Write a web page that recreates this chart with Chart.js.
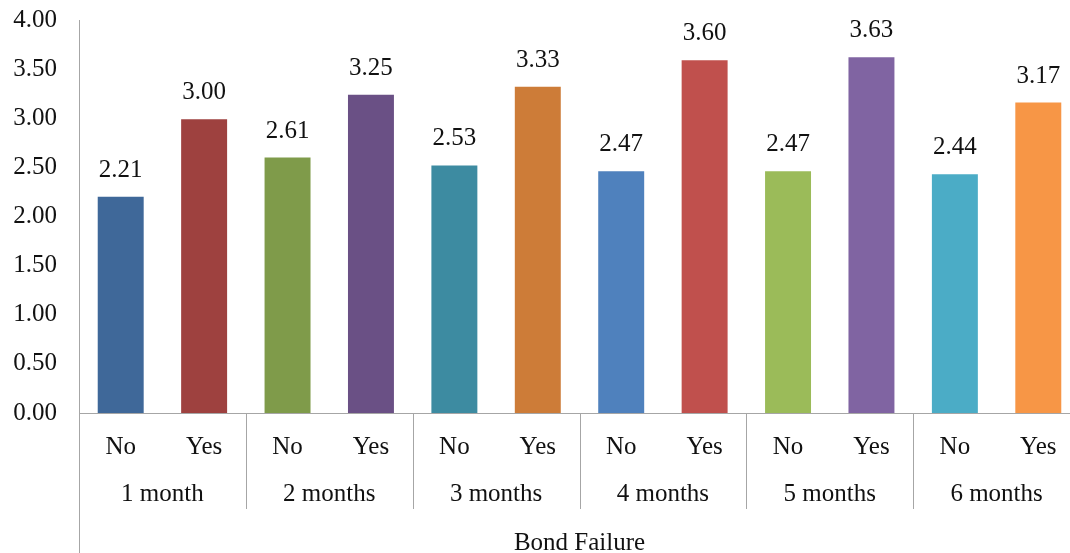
<!DOCTYPE html>
<html>
<head>
<meta charset="utf-8">
<script src="https://cdn.jsdelivr.net/npm/chart.js@4/dist/chart.umd.min.js"></script>
<style>
  html, body { margin: 0; padding: 0; background: #fff; overflow: hidden; }
  #wrap { width: 1080px; height: 553px; position: relative; }
</style>
</head>
<body>
<div id="wrap"><canvas id="c"></canvas></div>
<script>
// Bond failure answers per follow-up period
const periods = ['1 month', '2 months', '3 months', '4 months', '5 months', '6 months'];
const answers = ['No', 'Yes', 'No', 'Yes', 'No', 'Yes', 'No', 'Yes', 'No', 'Yes', 'No', 'Yes'];
const scores = [2.21, 3.00, 2.61, 3.25, 2.53, 3.33, 2.47, 3.60, 2.47, 3.63, 2.44, 3.17];
const barColors = ['#3F6899', '#9E413F', '#7F9B4A', '#6A5085', '#3D8BA1', '#CD7C38',
                   '#4F81BD', '#C0504D', '#9BBB59', '#8064A2', '#4BACC6', '#F79646'];
const yTicks = { min: 0, max: 4, step: 0.5 };

const FONT = 'Liberation Serif, Times New Roman, serif';
const SIZE = 25;
const LINE = '#a6a6a6';

// Value labels above each bar
const valueLabels = {
  id: 'valueLabels',
  afterDatasetsDraw(chart) {
    const ctx = chart.ctx;
    const meta = chart.getDatasetMeta(0);
    ctx.save();
    ctx.font = SIZE + 'px ' + FONT;
    ctx.fillStyle = '#111';
    ctx.textAlign = 'center';
    ctx.textBaseline = 'alphabetic';
    meta.data.forEach((bar, i) => {
      ctx.fillText(chart.data.datasets[0].data[i].toFixed(2), bar.x, bar.y - 19);
    });
    ctx.restore();
  }
};

// Group separators below the axis and the extended vertical axis line
const groupLines = {
  id: 'groupLines',
  afterDraw(chart) {
    const ctx = chart.ctx;
    const x = chart.scales.x;
    const area = chart.chartArea;
    ctx.save();
    ctx.strokeStyle = LINE;
    ctx.lineWidth = 1;
    ctx.beginPath();
    const lx = Math.round(area.left) + 0.5;
    ctx.moveTo(lx, area.bottom);
    ctx.lineTo(lx, chart.height);
    for (let k = 1; k < periods.length; k++) {
      const px = Math.round((x.getPixelForValue(2 * k - 1) + x.getPixelForValue(2 * k)) / 2) + 0.5;
      ctx.moveTo(px, area.bottom);
      ctx.lineTo(px, area.bottom + 96);
    }
    ctx.stroke();
    ctx.restore();
  }
};

new Chart(document.getElementById('c'), {
  type: 'bar',
  data: {
    labels: answers,
    datasets: [{
      data: scores,
      backgroundColor: barColors,
      borderColor: 'rgba(255,255,255,0.35)',
      borderWidth: 1,
      barPercentage: 0.575,
      categoryPercentage: 1.0,
      xAxisID: 'x',
      yAxisID: 'y'
    }]
  },
  options: {
    responsive: true,
    maintainAspectRatio: false,
    animation: false,
    layout: { padding: { top: 20, right: 0, left: 0, bottom: 0 } },
    plugins: { legend: { display: false }, tooltip: { enabled: false } },
    scales: {
      y: {
        min: yTicks.min,
        max: yTicks.max,
        grid: { display: false, drawTicks: false },
        border: { display: true, color: LINE, width: 1 },
        ticks: {
          stepSize: yTicks.step,
          padding: 22,
          color: '#111',
          font: { family: FONT, size: SIZE },
          callback: v => Number(v).toFixed(2)
        },
        afterFit: s => { s.width = 79; s.paddingTop = 0; s.paddingBottom = 0; }
      },
      x: {
        type: 'category',
        position: 'bottom',
        offset: true,
        grid: { display: false, drawTicks: false },
        border: { display: true, color: LINE, width: 1 },
        ticks: {
          padding: 19,
          color: '#111',
          font: { family: FONT, size: SIZE },
          maxRotation: 0,
          autoSkip: false
        },
        afterFit: s => { s.height = 56; }
      },
      x2: {
        type: 'category',
        position: 'bottom',
        labels: periods,
        offset: true,
        grid: { display: false, drawTicks: false },
        border: { display: false },
        ticks: {
          padding: 10,
          color: '#111',
          font: { family: FONT, size: SIZE },
          maxRotation: 0,
          autoSkip: false
        },
        title: {
          display: true,
          text: 'Bond Failure',
          color: '#111',
          font: { family: FONT, size: SIZE },
          padding: { top: 10, bottom: -5 }
        },
        afterFit: s => { s.height = 84; }
      }
    }
  },
  plugins: [valueLabels, groupLines]
});
</script>
</body>
</html>
